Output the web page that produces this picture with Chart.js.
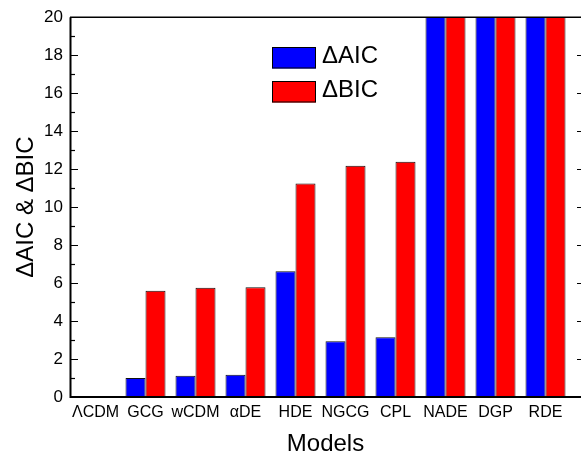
<!DOCTYPE html>
<html>
<head>
<meta charset="utf-8">
<script src="https://cdn.jsdelivr.net/npm/chart.js@4.4.1/dist/chart.umd.min.js"></script>
<style>
  html, body { margin: 0; padding: 0; background: #fff; overflow: hidden; }
  #wrap { width: 581px; height: 457px; }
</style>
</head>
<body>
<div id="wrap"><canvas id="myChart"></canvas></div>
<script>
// values (NADE, DGP, RDE run off the top of the axis)
const models = ['ΛCDM', 'GCG', 'wCDM', 'αDE', 'HDE', 'NGCG', 'CPL', 'NADE', 'DGP', 'RDE'];
const deltaAIC = [0, 1.0, 1.12, 1.17, 6.62, 2.94, 3.15, 26.1, 23.8, 32.6];
const deltaBIC = [0, 5.6, 5.75, 5.78, 11.24, 12.18, 12.39, 30.3, 28.0, 36.8];
const yTicks = [0, 2, 4, 6, 8, 10, 12, 14, 16, 18, 20];

const FONT = "'Liberation Sans', Arial, sans-serif";

// axis frame, inward ticks and the legend, drawn over the bars
const frame = {
    id: 'frame',
    afterDatasetsDraw(chart) {
        const { ctx, chartArea: a, scales: { y } } = chart;
        const w = chart.width;
        ctx.save();
        ctx.strokeStyle = '#000';
        ctx.lineWidth = 2;
        ctx.beginPath();
        ctx.moveTo(a.left + 0.5, a.top);
        ctx.lineTo(a.left + 0.5, a.bottom);
        ctx.lineTo(w, a.bottom);
        ctx.stroke();
        ctx.lineWidth = 1.5;
        ctx.beginPath();
        ctx.moveTo(a.left, a.top);
        ctx.lineTo(w, a.top);
        ctx.stroke();

        ctx.lineWidth = 1.2;
        const top = yTicks[yTicks.length - 1];
        for (let v = 1; v < top; v++) {
            const py = Math.round(y.getPixelForValue(v)) + 0.5;
            const major = yTicks.includes(v);
            ctx.beginPath();
            ctx.moveTo(a.left, py);
            ctx.lineTo(a.left + (major ? 8 : 5), py);
            if (major) {
                ctx.moveTo(w - 4, py);
                ctx.lineTo(w, py);
            }
            ctx.stroke();
        }

        // legend
        ctx.font = '24px ' + FONT;
        ctx.textBaseline = 'middle';
        ctx.textAlign = 'left';
        chart.data.datasets.forEach((ds, i) => {
            const bx = 272, by = 47 + i * 34, bw = 44, bh = 21.5;
            ctx.fillStyle = ds.backgroundColor;
            ctx.fillRect(bx, by, bw, bh);
            ctx.lineWidth = 1;
            ctx.strokeStyle = '#000';
            ctx.strokeRect(bx + 0.5, by + 0.5, bw - 1, bh - 1);
            ctx.fillStyle = '#000';
            ctx.fillText(ds.label, 322, by + bh / 2 - 1.5);
        });
        ctx.restore();
    }
};

const ctx = document.getElementById('myChart');

new Chart(ctx, {
    type: 'bar',
    data: {
        datasets: [{
            label: 'ΔAIC',
            data: models.map((m, i) => ({ x: i + 1, y: deltaAIC[i] })),
            backgroundColor: '#0000ff',
            borderColor: '#111',
            borderWidth: 1,
            categoryPercentage: 0.8,
            barPercentage: 1
        }, {
            label: 'ΔBIC',
            data: models.map((m, i) => ({ x: i + 1, y: deltaBIC[i] })),
            backgroundColor: '#ff0000',
            borderColor: '#111',
            borderWidth: 1,
            categoryPercentage: 0.8,
            barPercentage: 1
        }]
    },
    options: {
        responsive: true,
        maintainAspectRatio: false,
        animation: false,
        layout: { padding: { top: 16, left: 0, right: 0, bottom: 0 } },
        plugins: {
            legend: { display: false },
            tooltip: { enabled: false }
        },
        scales: {
            x: {
                type: 'linear',
                offset: false,
                min: 0.49,
                max: 10.71,
                grid: { display: false, drawTicks: false, offset: false },
                border: { display: false },
                afterBuildTicks: s => { s.ticks = models.map((m, i) => ({ value: i + 1 })); },
                afterFit: s => { s.height = 60; s.paddingLeft = 0; s.paddingRight = 0; },
                ticks: {
                    autoSkip: false,
                    maxRotation: 0,
                    padding: 6,
                    color: '#000',
                    font: { family: FONT, size: 16 },
                    callback: (v, i) => models[i]
                },
                title: {
                    display: true,
                    text: 'Models',
                    color: '#000',
                    font: { family: FONT, size: 24, lineHeight: 1 },
                    padding: { top: 0, bottom: 1 }
                }
            },
            y: {
                min: 0,
                max: 20,
                grid: { display: false, drawTicks: false },
                border: { display: false },
                afterBuildTicks: s => { s.ticks = yTicks.map(v => ({ value: v })); },
                afterFit: s => { s.width = 70; },
                ticks: {
                    padding: 7,
                    color: '#000',
                    font: { family: FONT, size: 17 }
                },
                title: {
                    display: true,
                    text: 'ΔAIC & ΔBIC',
                    color: '#000',
                    font: { family: FONT, size: 24, lineHeight: 1 },
                    padding: { top: 14, bottom: 0 }
                }
            }
        }
    },
    plugins: [frame]
});
</script>
</body>
</html>
